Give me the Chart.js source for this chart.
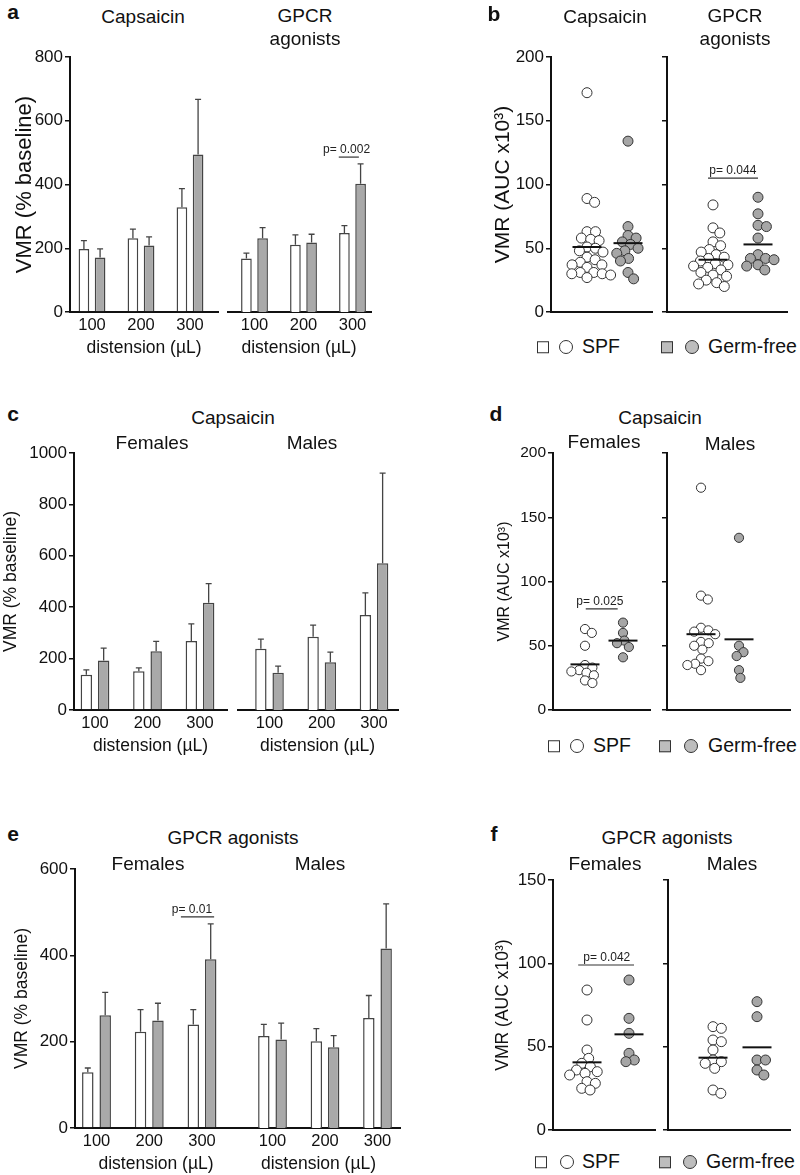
<!DOCTYPE html>
<html>
<head>
<meta charset="utf-8">
<script src="https://cdn.jsdelivr.net/npm/chart.js@4.4.1/dist/chart.umd.min.js"></script>
<style>
  body { margin: 0; background: #fff; }
  #fig { position: relative; width: 800px; height: 1175px; overflow: hidden; background: #fff;
         font-family: 'Liberation Sans', Arial, sans-serif; color: #111; }
  #fig canvas { position: absolute; }
  .txt { position: absolute; white-space: nowrap; line-height: 1; transform: translate(-50%, -50%); }
  .leg { position: absolute; white-space: nowrap; line-height: 1; transform: translateY(-50%); font-size: 19.5px; }
  .sw { position: absolute; box-sizing: border-box; border: 1.3px solid #333; transform: translateY(-50%); }
</style>
</head>
<body>
<div id="fig"></div>
<script>
'use strict';

// ---- data ----
const VOLUMES = ['100', '200', '300'];

// a : VMR (% baseline), mean and SEM per distension volume
const aCapSpf = [198, 231, 329];
const aCapSpfSem = [26, 29, 58];
const aCapGf = [171, 209, 494];
const aCapGfSem = [27, 27, 173];
const aGpcrSpf = [168, 211, 248];
const aGpcrSpfSem = [17, 31, 23];
const aGpcrGf = [231, 218, 402];
const aGpcrGfSem = [34, 26, 63];

// c : capsaicin, females / males
const cFemSpf = [137, 151, 268];
const cFemSpfSem = [19, 13, 67];
const cFemGf = [193, 229, 417];
const cFemGfSem = [48, 38, 75];
const cMalSpf = [238, 285, 370];
const cMalSpfSem = [38, 45, 86];
const cMalGf = [145, 186, 571];
const cMalGfSem = [26, 39, 351];

// e : GPCR agonists, females / males
const eFemSpf = [129, 223, 240];
const eFemSpfSem = [10, 51, 34];
const eFemGf = [261, 249, 391];
const eFemGfSem = [53, 40, 82];
const eMalSpf = [213, 201, 255];
const eMalSpfSem = [27, 29, 52];
const eMalGf = [205, 187, 416];
const eMalGfSem = [38, 27, 103];

// b : VMR (AUC x10^3), individual animals + group mean
const bCapSpf = [172, 89, 86, 63, 63, 58, 57, 56, 51, 50, 48, 47, 43, 41, 39, 37, 37, 35, 31, 31, 30, 30, 29, 27];
const bCapGf = [134, 67, 60, 58, 55, 53, 50, 48, 46, 42, 40, 31, 26];
const bCapMeans = [51, 54];
const bGpcrSpf = [84, 66, 62, 55, 52, 49, 47, 45, 43, 42, 40, 38, 37, 36, 35, 33, 31, 29, 28, 25, 23, 22, 20];
const bGpcrGf = [90, 77, 68, 67, 58, 45, 42, 42, 41, 37, 36, 33];
const bGpcrMeans = [41, 53];

// d : capsaicin by sex
const dFemSpf = [63, 60, 50, 35, 33, 31, 30, 29, 27, 23, 21];
const dFemGf = [68, 60, 54, 52, 49, 41];
const dFemMeans = [35.5, 54];
const dMalSpf = [173, 89, 86, 64, 62, 61, 59, 53, 52, 50, 47, 40, 38, 36, 35, 31];
const dMalGf = [134, 50, 45, 42, 31, 25];
const dMalMeans = [59, 55];

// f : GPCR agonists by sex
const fFemSpf = [84, 66, 48, 43, 40, 38, 36, 35, 34, 33, 29, 28, 25, 24];
const fFemGf = [90, 67, 58, 46, 42, 41];
const fFemMeans = [40.6, 57.4];
const fMalSpf = [62, 61, 54, 53, 48, 42, 41, 40, 37, 24, 22];
const fMalGf = [77, 68, 42, 42, 36, 33];
const fMalMeans = [43.4, 49.6];

// ---- look ----
const INK = '#111';
const BAR_EDGE = '#444';
const GREY = '#a9a9a9';
Chart.defaults.font.family = "'Liberation Sans', Arial, sans-serif";
Chart.defaults.color = INK;

const fig = document.getElementById('fig');

/* error bars (upper half only, like the figure) */
const errorBars = {
    id: 'errorBars',
    afterDatasetsDraw(chart) {
        const ctx = chart.ctx;
        const yScale = chart.scales.y;
        chart.data.datasets.forEach((ds, i) => {
            if (!ds.errors) return;
            chart.getDatasetMeta(i).data.forEach((bar, j) => {
                const top = yScale.getPixelForValue(ds.data[j].y + ds.errors[j]);
                ctx.save();
                ctx.strokeStyle = BAR_EDGE;
                ctx.lineWidth = 1.3;
                ctx.beginPath();
                ctx.moveTo(bar.x, bar.y);
                ctx.lineTo(bar.x, top);
                ctx.moveTo(bar.x - 3, top);
                ctx.lineTo(bar.x + 3, top);
                ctx.stroke();
                ctx.restore();
            });
        });
    }
};

/* p-value bracket */
const pValue = {
    id: 'pValue',
    afterDatasetsDraw(chart, args, opts) {
        if (!opts || !opts.text) return;
        const {x, y} = chart.scales;
        const ctx = chart.ctx;
        const yy = y.getPixelForValue(opts.at);
        ctx.save();
        ctx.strokeStyle = '#333';
        ctx.lineWidth = 1.2;
        ctx.beginPath();
        ctx.moveTo(x.getPixelForValue(opts.from), yy);
        ctx.lineTo(x.getPixelForValue(opts.to), yy);
        ctx.stroke();
        ctx.fillStyle = '#222';
        ctx.font = "12px 'Liberation Sans', Arial, sans-serif";
        ctx.textAlign = 'center';
        ctx.textBaseline = 'bottom';
        ctx.fillText(opts.text, x.getPixelForValue(opts.textX), yy - 1);
        ctx.restore();
    }
};

function addCanvas(left, top, w, h) {
    const c = document.createElement('canvas');
    c.width = Math.round(w);
    c.height = Math.round(h);
    c.style.left = left + 'px';
    c.style.top = top + 'px';
    fig.appendChild(c);
    return c;
}

function yAxis(p, yw, title) {
    return {
        display: true,
        min: 0,
        max: p.yMax,
        afterFit: s => { s.width = yw; },
        ticks: { display: !!p.showY, stepSize: p.yStep, padding: 2, font: { size: p.tickSize }, color: INK,
                 callback: v => String(v) },
        grid: { drawOnChartArea: false, tickLength: 5, color: INK, lineWidth: 1.5 },
        border: { display: true, color: INK, width: 2 },
        title: {
            display: !!p.showY, text: title, color: INK, font: { size: p.titleSize },
            padding: { top: p.showY ? p.titleX - p.left - p.titleSize * 0.6 : 0, bottom: 0 }
        }
    };
}

// bar sub-plot with SEM
function barPlot(p) {
    const padTop = 14, padRight = 4, xh = 47;
    const yw = p.showY ? p.L - p.left : 0;
    const canvas = addCanvas(p.L - yw, p.T - padTop, p.R - p.L + yw + padRight, p.B - p.T + padTop + xh);
    const xMin = 1 - (p.first - p.L) / p.step;
    const xMax = 1 + (p.R - p.first) / p.step;
    const toXY = arr => arr.map((v, i) => ({ x: i + 1, y: v }));

    const y = yAxis(p, yw, 'VMR (% baseline)');
    if (!p.showY) y.display = false;

    new Chart(canvas, {
        type: 'bar',
        data: {
            datasets: [
                { label: 'SPF', data: toXY(p.spf), errors: p.spfSem, backgroundColor: '#fff', borderColor: BAR_EDGE, borderWidth: 1.5 },
                { label: 'Germ-free', data: toXY(p.gf), errors: p.gfSem, backgroundColor: GREY, borderColor: BAR_EDGE, borderWidth: 1.5 }
            ]
        },
        options: {
            responsive: false,
            animation: false,
            events: [],
            layout: { padding: { top: padTop, right: padRight, left: 0, bottom: 0 } },
            datasets: { bar: { categoryPercentage: 0.66, barPercentage: 0.66 } },
            plugins: { legend: { display: false }, tooltip: { enabled: false }, pValue: p.pval || {} },
            scales: {
                x: {
                    type: 'linear', min: xMin, max: xMax, offset: false,
                    afterBuildTicks: s => { s.ticks = VOLUMES.map((_, i) => ({ value: i + 1 })); },
                    afterFit: s => { s.height = xh; },
                    grid: { display: false },
                    border: { display: true, color: INK, width: 2 },
                    ticks: { padding: -4, font: { size: 16.5 }, color: INK, callback: v => VOLUMES[v - 1] },
                    title: { display: true, text: 'distension (µL)', color: INK, font: { size: 17.5 }, padding: { top: 0, bottom: 0.5 } }
                },
                y: y
            }
        },
        plugins: [errorBars, pValue]
    });
}

// simple deterministic beeswarm: pixel offsets so circles do not pile up
function swarm(values, pxPerUnit, minDist) {
    const placed = [];
    return values.map(v => {
        const yy = v * pxPerUnit;
        const cands = [0];
        placed.forEach(q => {
            const dy = Math.abs(q.y - yy);
            if (dy < minDist) {
                const dx = Math.sqrt(minDist * minDist - dy * dy);
                cands.push(q.x + dx, q.x - dx);
            }
        });
        cands.sort((a, b) => Math.abs(a) - Math.abs(b));
        const xx = cands.find(c => placed.every(q => Math.hypot(q.x - c, q.y - yy) >= minDist - 0.01));
        placed.push({ x: xx, y: yy });
        return xx;
    });
}

// dot sub-plot with mean line
function dotPlot(p) {
    const padTop = 14, padRight = 6, xh = 4, padBottom = 10;
    const padLeft = p.showY ? 0 : 7;
    const yw = p.showY ? p.L - p.left : 0;
    const canvas = addCanvas(p.L - yw - padLeft, p.T - padTop, p.R - p.L + yw + padLeft + padRight,
        p.B - p.T + padTop + xh + padBottom);
    const xMin = 1 - (p.first - p.L) / p.step;
    const xMax = 1 + (p.R - p.first) / p.step;
    const pxY = (p.B - p.T) / p.yMax;
    const hw = 14.5 / p.step;
    const offSpf = swarm(p.spf, pxY, p.r * 1.7);
    const offGf = swarm(p.gf, pxY, p.r * 1.7);

    const meanLine = (cx, m) => ({
        data: [{ x: cx - hw, y: m }, { x: cx + hw, y: m }],
        showLine: true, borderColor: INK, borderWidth: 2, pointRadius: 0, order: 0
    });

    new Chart(canvas, {
        type: 'scatter',
        data: {
            datasets: [
                meanLine(1, p.means[0]),
                meanLine(2, p.means[1]),
                {
                    label: 'SPF', data: p.spf.map((v, i) => ({ x: 1 + offSpf[i] / p.step, y: v })),
                    backgroundColor: '#fff', borderColor: '#333', borderWidth: 1, pointRadius: p.r, order: 1
                },
                {
                    label: 'Germ-free', data: p.gf.map((v, i) => ({ x: 2 + offGf[i] / p.step, y: v })),
                    backgroundColor: '#a6a6a6', borderColor: '#333', borderWidth: 1, pointRadius: p.r, order: 1
                }
            ]
        },
        options: {
            responsive: false,
            animation: false,
            events: [],
            layout: { padding: { top: padTop, right: padRight, left: padLeft, bottom: padBottom } },
            plugins: { legend: { display: false }, tooltip: { enabled: false }, pValue: p.pval || {} },
            scales: {
                x: {
                    type: 'linear', min: xMin, max: xMax, offset: false,
                    afterFit: s => { s.height = xh; },
                    ticks: { display: false },
                    grid: { display: false },
                    border: { display: true, color: INK, width: 2 }
                },
                y: yAxis(p, yw, 'VMR (AUC x10³)')
            }
        },
        plugins: [pValue]
    });
}

// ---- HTML text ----
function text(str, cx, cy, size, bold) {
    const d = document.createElement('div');
    d.className = 'txt';
    d.textContent = str;
    d.style.left = cx + 'px';
    d.style.top = cy + 'px';
    d.style.fontSize = size + 'px';
    if (bold) d.style.fontWeight = 'bold';
    fig.appendChild(d);
}

function swatch(x, cy, w, fill, round) {
    const d = document.createElement('div');
    d.className = 'sw';
    d.style.left = x + 'px';
    d.style.top = cy + 'px';
    d.style.width = w + 'px';
    d.style.height = w + 'px';
    d.style.background = fill;
    if (round) d.style.borderRadius = '50%';
    fig.appendChild(d);
}

function legendRow(cy, xs) {
    swatch(xs[0], cy, 11.5, '#fff', false);
    swatch(xs[1], cy, 14, '#fff', true);
    const t1 = document.createElement('div');
    t1.className = 'leg'; t1.textContent = 'SPF';
    t1.style.left = xs[2] + 'px'; t1.style.top = cy + 'px';
    fig.appendChild(t1);
    swatch(xs[3], cy, 11.5, '#bdbdbd', false);
    swatch(xs[4], cy, 14, '#bdbdbd', true);
    const t2 = document.createElement('div');
    t2.className = 'leg'; t2.textContent = 'Germ-free';
    t2.style.left = xs[5] + 'px'; t2.style.top = cy + 'px';
    fig.appendChild(t2);
}

// ---- panel a ----
barPlot({ L: 70, T: 57, R: 218, B: 312, first: 92, step: 49, yMax: 800, yStep: 200,
    showY: true, left: 0, tickSize: 17, titleSize: 22, titleX: 25,
    spf: aCapSpf, spfSem: aCapSpfSem, gf: aCapGf, gfSem: aCapGfSem });
barPlot({ L: 227, T: 57, R: 371, B: 312, first: 254.5, step: 49, yMax: 800, yStep: 200,
    showY: false, spf: aGpcrSpf, spfSem: aGpcrSpfSem, gf: aGpcrGf, gfSem: aGpcrGfSem,
    pval: { text: 'p= 0.002', from: 2.72, to: 3.13, at: 486, textX: 2.88 } });

// ---- panel b ----
dotPlot({ L: 551, T: 57, R: 652, B: 312, first: 587, step: 41, yMax: 200, yStep: 50,
    showY: true, left: 480, tickSize: 17, titleSize: 21, titleX: 503, r: 5,
    spf: bCapSpf, gf: bCapGf, means: bCapMeans });
dotPlot({ L: 667, T: 57, R: 787, B: 312, first: 713, step: 45, yMax: 200, yStep: 50,
    showY: false, r: 5, spf: bGpcrSpf, gf: bGpcrGf, means: bGpcrMeans,
    pval: { text: 'p= 0.044', from: 0.89, to: 2.0, at: 105, textX: 1.44 } });

// ---- panel c ----
barPlot({ L: 74, T: 453, R: 227, B: 710, first: 95, step: 52.5, yMax: 1000, yStep: 200,
    showY: true, left: 0, tickSize: 17, titleSize: 17.5, titleX: 11,
    spf: cFemSpf, spfSem: cFemSpfSem, gf: cFemGf, gfSem: cFemGfSem });
barPlot({ L: 237, T: 453, R: 398, B: 710, first: 269.5, step: 52.25, yMax: 1000, yStep: 200,
    showY: false, spf: cMalSpf, spfSem: cMalSpfSem, gf: cMalGf, gfSem: cMalGfSem });

// ---- panel d ----
dotPlot({ L: 553, T: 453, R: 650, B: 709.5, first: 585, step: 38, yMax: 200, yStep: 50,
    showY: true, left: 480, tickSize: 15.5, titleSize: 16, titleX: 505, r: 4.6,
    spf: dFemSpf, gf: dFemGf, means: dFemMeans,
    pval: { text: 'p= 0.025', from: 1.02, to: 1.86, at: 78.7, textX: 1.39 } });
dotPlot({ L: 667, T: 453, R: 790, B: 709.5, first: 701, step: 38, yMax: 200, yStep: 50,
    showY: false, r: 4.6, spf: dMalSpf, gf: dMalGf, means: dMalMeans });

// ---- panel e ----
barPlot({ L: 75, T: 869, R: 237, B: 1128, first: 96.5, step: 52.75, yMax: 600, yStep: 200,
    showY: true, left: 0, tickSize: 17, titleSize: 17.5, titleX: 22,
    spf: eFemSpf, spfSem: eFemSpfSem, gf: eFemGf, gfSem: eFemGfSem,
    pval: { text: 'p= 0.01', from: 2.60, to: 3.23, at: 489, textX: 2.81 } });
barPlot({ L: 237, T: 869, R: 400, B: 1128, first: 272.5, step: 52.5, yMax: 600, yStep: 200,
    showY: false, spf: eMalSpf, spfSem: eMalSpfSem, gf: eMalGf, gfSem: eMalGfSem });

// ---- panel f ----
dotPlot({ L: 553, T: 880, R: 655, B: 1130, first: 587, step: 42, yMax: 150, yStep: 50,
    showY: true, left: 480, tickSize: 17, titleSize: 17.5, titleX: 503, r: 5,
    spf: fFemSpf, gf: fFemGf, means: fFemMeans,
    pval: { text: 'p= 0.042', from: 0.79, to: 2.12, at: 99, textX: 1.47 } });
dotPlot({ L: 668, T: 880, R: 790, B: 1130, first: 713, step: 44, yMax: 150, yStep: 50,
    showY: false, r: 5, spf: fMalSpf, gf: fMalGf, means: fMalMeans });

// ---- panel letters, headings, legends ----
text('a', 13, 11, 21, true);
text('Capsaicin', 143, 16, 19);
text('GPCR', 305, 15, 19);
text('agonists', 305, 38, 19);

text('b', 494, 13, 21, true);
text('Capsaicin', 605, 16, 19);
text('GPCR', 735, 15, 19);
text('agonists', 735, 38, 19);
legendRow(347, [537, 559, 582, 661, 685, 708]);

text('c', 13, 413, 21, true);
text('Capsaicin', 233, 417, 19);
text('Females', 152, 442, 19);
text('Males', 312, 442, 19);

text('d', 496, 413, 21, true);
text('Capsaicin', 660, 417, 19);
text('Females', 604, 441, 19);
text('Males', 730, 443, 19);
legendRow(746, [548, 570, 593, 659, 684, 708]);

text('e', 13, 833, 21, true);
text('GPCR agonists', 233, 837, 19);
text('Females', 148, 863, 19);
text('Males', 320, 863, 19);

text('f', 494, 833, 21, true);
text('GPCR agonists', 667, 837, 19);
text('Females', 605, 863, 19);
text('Males', 732, 863, 19);
legendRow(1162, [535, 560, 582, 659, 683, 706]);
</script>
</body>
</html>
